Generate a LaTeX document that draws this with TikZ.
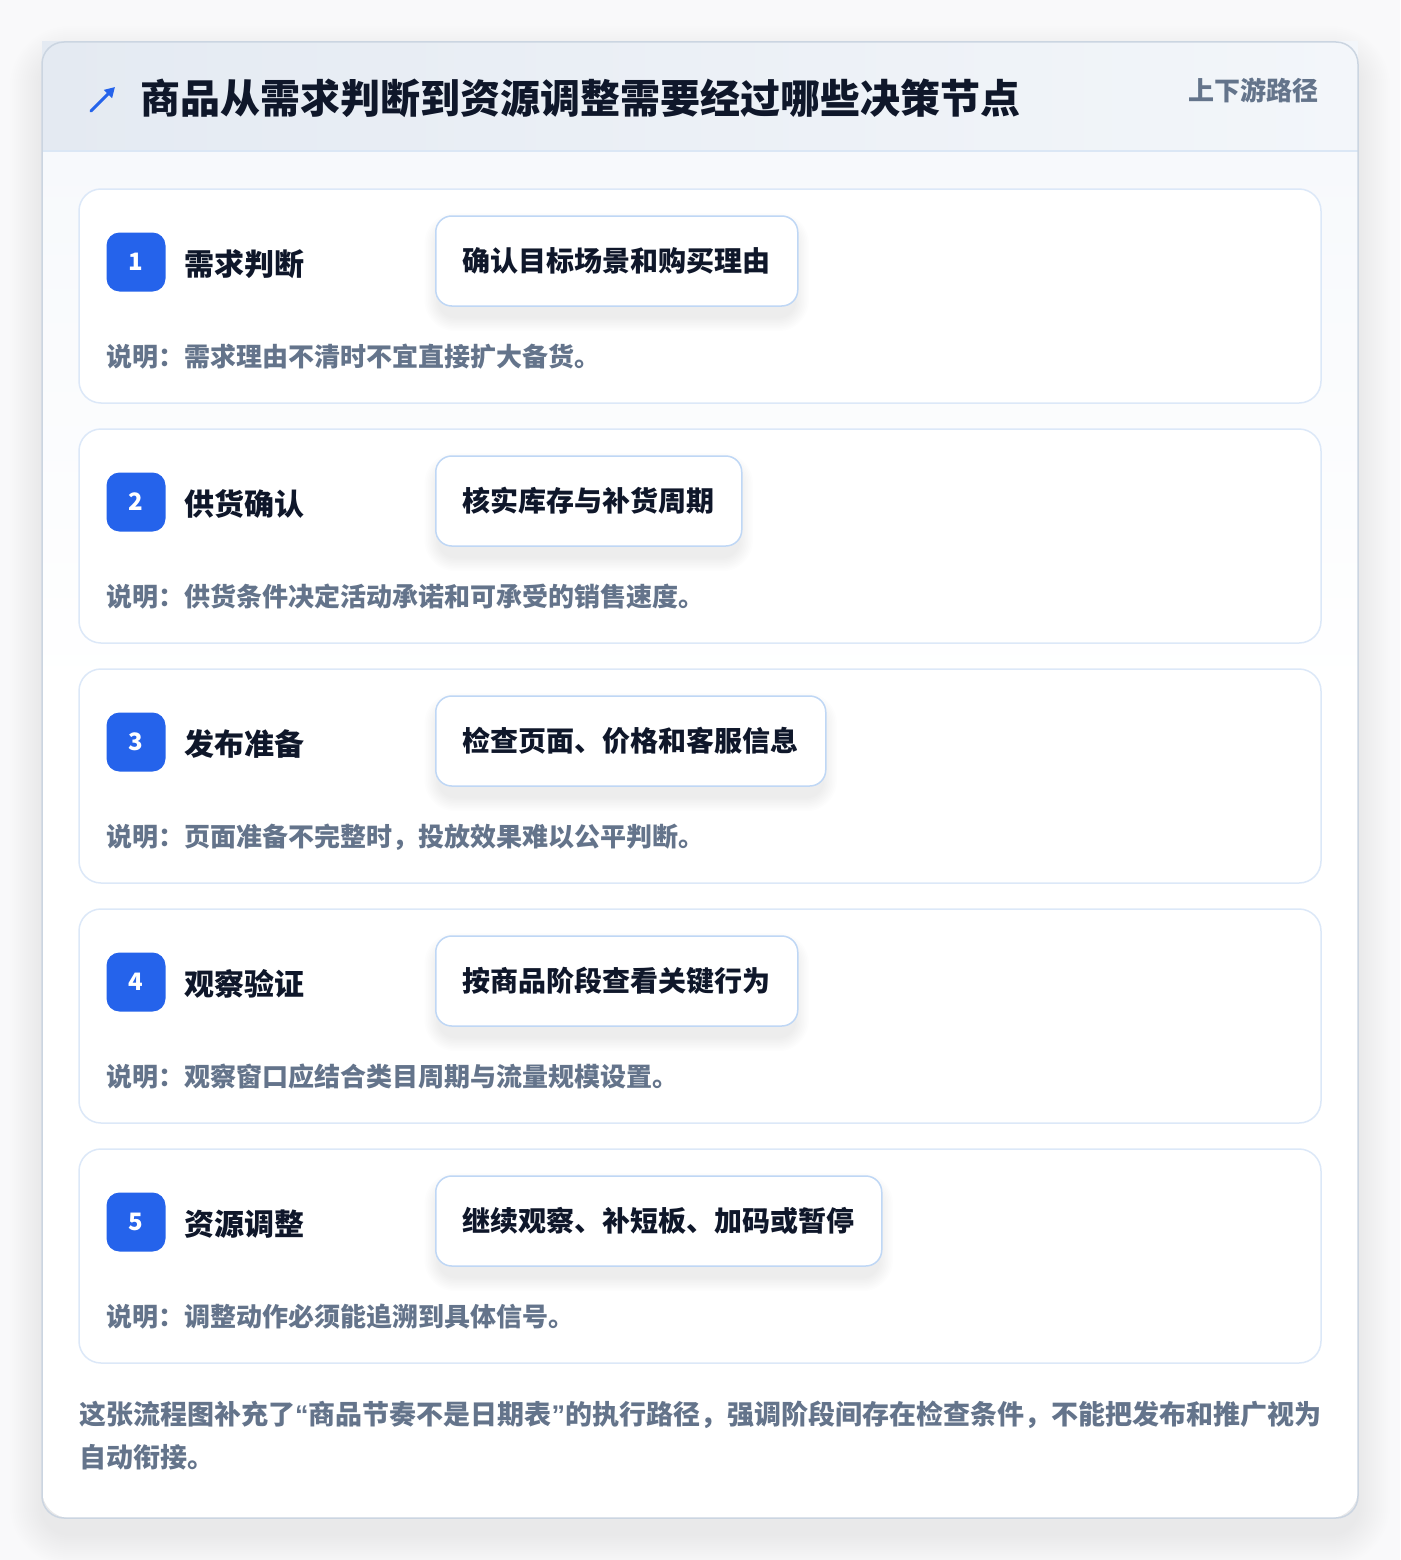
\documentclass[tikz,border=0pt]{standalone}
\usepackage{fontspec}
\setmainfont{Noto Sans CJK SC}
\newfontfamily\quotefont{Liberation Sans}
\usetikzlibrary{arrows.meta,calc}
\definecolor{pagebg}{HTML}{F9F9FA}
\definecolor{ink}{HTML}{0F172A}
\definecolor{muted}{HTML}{64748B}
\definecolor{accent}{HTML}{2563EB}
\definecolor{cardline}{HTML}{CBD5E1}
\definecolor{hdrA}{HTML}{E4EAF2}
\definecolor{hdrB}{HTML}{F3F6FA}
\definecolor{hdrline}{HTML}{DBE7F5}
\definecolor{bodytop}{HTML}{F7F9FC}
\definecolor{stepline}{HTML}{DCE8F8}
\definecolor{boxline}{HTML}{BFD7F5}
\pgfdeclarelayer{back}
\pgfdeclarelayer{stepcards}
\pgfdeclarelayer{boxshadow}
\pgfsetlayers{back,stepcards,boxshadow,main}
\tikzset{
  fs/.style args={#1/#2}{font=\fontsize{#1}{#2}\selectfont\bfseries},
  stepcard/.style={draw=stepline, line width=1.5pt, fill=white, rounded corners=22pt},
  badge/.style={fill=accent, text=white, rounded corners=13pt, minimum size=59pt, inner sep=0pt, fs=24/26},
  steptitle/.style={anchor=west, inner sep=0pt, text=ink, fs=30/36},
  actionbox/.style={anchor=west, draw=boxline, line width=1.5pt, fill=white, rounded corners=16pt,
    minimum height=90pt, inner xsep=27pt, inner ysep=0pt, text=ink, fs=28/34},
  note/.style={anchor=west, inner sep=0pt, text=muted, fs=26/32},
  foot/.style={anchor=west, inner sep=0pt, text=muted, fs=27/34},
  softshadow/.style={fill=black, opacity=#1},
}
\begin{document}
\begin{tikzpicture}[x=1pt,y=-1pt]
\useasboundingbox (0,0) rectangle (1400,1560);
\begin{pgfonlayer}{back}
\fill[pagebg] (0,0) rectangle (1400,1560);
% main card shadow
\foreach \k in {1,...,16}{
  \pgfmathsetmacro{\d}{2*\k}
  \pgfmathsetmacro{\rr}{28+\d}
  \fill[softshadow=0.005, rounded corners=\rr pt] (42-\d,42-\d+16) rectangle (1358+\d,1518+\d+16);
}
% main card
\fill[white, rounded corners=28pt] (42,42) rectangle (1358,1518);
\begin{scope}
  \clip[rounded corners=28pt] (42,42) rectangle (1358,1518);
  \shade[top color=bodytop, bottom color=white] (42,151) rectangle (1358,700);
\end{scope}
\shade[left color=hdrA, right color=hdrB] (42,42) rectangle (1358,151);
\draw[hdrline, line width=1.5pt] (42,151) -- (1358,151);
\draw[cardline, line width=1.5pt, rounded corners=22pt] (42,42) rectangle (1358,1518);
\end{pgfonlayer}
% header
\coordinate (iconA) at (91,111);
\coordinate (iconB) at (115,87);
\draw[accent, line width=3pt, line cap=round, -{Triangle[length=10pt,width=11pt]}] (iconA) -- (iconB);
\node[anchor=west, inner sep=0pt, text=ink, fs=40/48] (title) at (140,98) {商品从需求判断到资源调整需要经过哪些决策节点};
\node[anchor=east, inner sep=0pt, text=muted, fs=26/32] (tag) at (1319,90) {上下游路径};
% steps
\foreach \i/\t/\b/\n in {
  1/需求判断/确认目标场景和购买理由/说明：需求理由不清时不宜直接扩大备货。,
  2/供货确认/核实库存与补货周期/说明：供货条件决定活动承诺和可承受的销售速度。,
  3/发布准备/检查页面、价格和客服信息/说明：页面准备不完整时，投放效果难以公平判断。,
  4/观察验证/按商品阶段查看关键行为/说明：观察窗口应结合类目周期与流量规模设置。,
  5/资源调整/继续观察、补短板、加码或暂停/说明：调整动作必须能追溯到具体信号。}{
  \pgfmathsetmacro{\top}{189+(\i-1)*240}
  \begin{pgfonlayer}{stepcards}
  \path[stepcard] (79,\top) rectangle (1321,\top+214) node[pos=0, inner sep=0pt] (card\i) {};
  \end{pgfonlayer}
  \node[badge] (badge\i) at (136,\top+73) {\i};
  \node[steptitle] (title\i) at (184,\top+75) {\t};
  \node[actionbox] (box\i) at (435,\top+72) {\b};
  \node[note] (note\i) at (106,\top+168) {\n};
  \begin{pgfonlayer}{boxshadow}
  \foreach \k in {1,...,9}{
    \pgfmathsetmacro{\d}{1.6*\k}
    \pgfmathsetmacro{\rr}{16+\d}
    \fill[softshadow=0.007, rounded corners=\rr pt]
      ($(box\i.north west)+(-\d+4,12-\d)$) rectangle ($(box\i.south east)+(\d-4,10+\d)$);
  }
  \end{pgfonlayer}
}
% footer
\node[foot] (foot1) at (79,1415) {这张流程图补充了{\quotefont “}商品节奏不是日期表{\quotefont ”}的执行路径，强调阶段间存在检查条件，不能把发布和推广视为};
\node[foot] (foot2) at (79,1457) {自动衔接。};
\end{tikzpicture}
\end{document}
